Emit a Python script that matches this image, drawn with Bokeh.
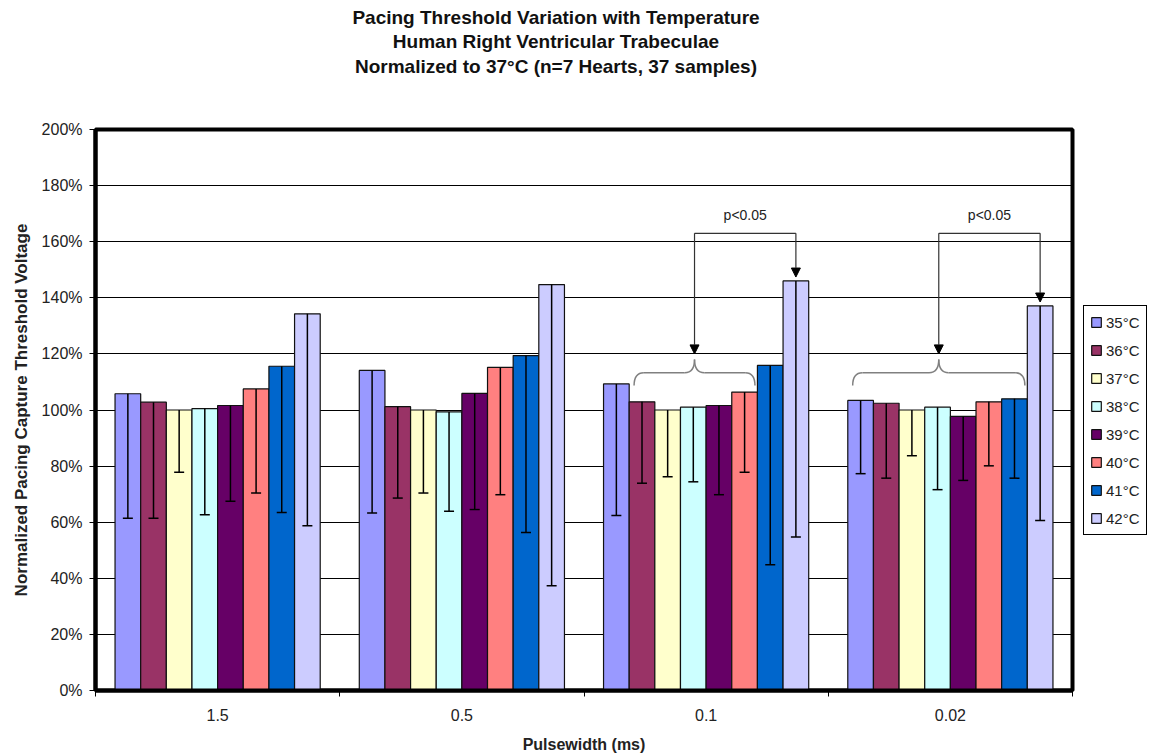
from bokeh.plotting import figure
from bokeh.layouts import row
from bokeh.models import (ColumnDataSource, Range1d, FixedTicker, PrintfTickFormatter,
                          Whisker, TeeHead, Arrow, NormalHead, Legend, LegendItem, Title)
from bokeh.core.properties import value
from bokeh.embed import file_html
from bokeh.resources import INLINE

# ---------------- data ----------------
groups = ["1.5", "0.5", "0.1", "0.02"]          # pulsewidth (ms)
temps = ["35°C", "36°C", "37°C", "38°C", "39°C", "40°C", "41°C", "42°C"]
colors = ["#9999FF", "#993366", "#FFFFCC", "#CCFFFF", "#660066", "#FF8080", "#0066CC", "#CCCCFF"]

# mean normalized threshold (%), one value per pulsewidth group
mean_35 = [105.8, 114.1, 109.3, 103.4]
mean_36 = [102.8, 101.2, 102.9, 102.4]
mean_37 = [100.0, 100.0, 100.0, 100.0]
mean_38 = [100.5, 99.3, 101.0, 101.0]
mean_39 = [101.6, 105.9, 101.6, 97.7]
mean_40 = [107.5, 115.2, 106.4, 102.9]
mean_41 = [115.6, 119.4, 115.9, 104.0]
mean_42 = [134.3, 144.7, 146.0, 137.1]

# lower end of the error bar (%)
low_35 = [61.4, 63.3, 62.4, 77.3]
low_36 = [61.4, 68.6, 73.9, 75.7]
low_37 = [77.8, 70.4, 76.2, 83.7]
low_38 = [62.7, 63.9, 74.4, 71.6]
low_39 = [67.5, 64.5, 69.8, 74.9]
low_40 = [70.4, 69.8, 77.8, 80.1]
low_41 = [63.5, 56.3, 44.8, 75.7]
low_42 = [58.7, 37.3, 54.7, 60.6]

y_ticks = [0, 20, 40, 60, 80, 100, 120, 140, 160, 180, 200]

# significance annotations: group index, first & last bar under the brace
sig_groups = [2, 3]
sig_brace_first = [1, 0]
sig_brace_last = [5, 6]
sig_label = "p<0.05"

means = [mean_35, mean_36, mean_37, mean_38, mean_39, mean_40, mean_41, mean_42]
lows = [low_35, low_36, low_37, low_38, low_39, low_40, low_41, low_42]

# ---------------- figure ----------------
p = figure(frame_width=977, frame_height=561, x_range=Range1d(0, 4), y_range=Range1d(0, 200),
           output_backend="svg", toolbar_location=None,
           min_border_left=95, min_border_right=4, min_border_top=129, min_border_bottom=65)
p.background_fill_color = "white"
p.border_fill_color = "white"
p.outline_line_color = "black"
p.outline_line_width = 4

FONT = "Liberation Sans"
BAR_W = 0.105


def bar_x(g, i):
    return g + 0.5 + (i - 3.5) * BAR_W


for i, t in enumerate(temps):
    xs = [bar_x(g, i) for g in range(len(groups))]
    src = ColumnDataSource(dict(x=xs, top=means[i], low=lows[i]))
    p.vbar(x="x", top="top", bottom=0, width=BAR_W, source=src,
           fill_color=colors[i], line_color="#111111", line_width=1.2)
    w = Whisker(base="x", upper="top", lower="low", source=src,
                upper_head=None,
                lower_head=TeeHead(size=10, line_color="black", line_width=1.5),
                line_color="black", line_width=1.5, level="overlay")
    p.add_layout(w)

# ---------------- significance brackets ----------------
BRACKET_Y = 163
LABEL_Y = 169.5
BRACE_TIP = 118
BRACE_MID = 113.3
BRACE_END = 108.7
D = 0.04
br_col = "#808080"

q = dict(x0=[], y0=[], x1=[], y1=[], cx=[], cy=[])
seg = dict(x0=[], y0=[], x1=[], y1=[])
arr = dict(xs=[], ys=[], xe=[], ye=[])
lab = dict(x=[], y=[], text=[])
for g, f, l in zip(sig_groups, sig_brace_first, sig_brace_last):
    L = bar_x(g, f) - BAR_W / 2 + 0.02
    R = bar_x(g, l) + BAR_W / 2 - 0.01
    tip = (L + R) / 2
    for (a, b, c, d_, e, f_) in [
        (L, BRACE_END, L + D, BRACE_MID, L, BRACE_MID),
        (tip - D, BRACE_MID, tip, BRACE_TIP, tip, BRACE_MID),
        (tip, BRACE_TIP, tip + D, BRACE_MID, tip, BRACE_MID),
        (R - D, BRACE_MID, R, BRACE_END, R, BRACE_MID),
    ]:
        q["x0"].append(a); q["y0"].append(b); q["x1"].append(c)
        q["y1"].append(d_); q["cx"].append(e); q["cy"].append(f_)
    seg["x0"] += [L + D, tip + D]
    seg["y0"] += [BRACE_MID, BRACE_MID]
    seg["x1"] += [tip - D, R - D]
    seg["y1"] += [BRACE_MID, BRACE_MID]
    x42 = bar_x(g, 7)
    p.segment(x0=[tip], y0=[BRACKET_Y], x1=[x42], y1=[BRACKET_Y],
              line_color="#333333", line_width=1.2)
    arr["xs"] += [tip, x42]
    arr["ys"] += [BRACKET_Y, BRACKET_Y]
    arr["xe"] += [tip, x42]
    arr["ye"] += [BRACE_TIP + 2, mean_42[g] + 1.4]
    lab["x"].append((tip + x42) / 2)
    lab["y"].append(LABEL_Y)
    lab["text"].append(sig_label)

p.quadratic(x0="x0", y0="y0", x1="x1", y1="y1", cx="cx", cy="cy",
            source=ColumnDataSource(q), line_color=br_col, line_width=1.5)
p.segment(x0="x0", y0="y0", x1="x1", y1="y1", source=ColumnDataSource(seg),
          line_color=br_col, line_width=1.5)
p.add_layout(Arrow(x_start="xs", y_start="ys", x_end="xe", y_end="ye",
                   source=ColumnDataSource(arr), line_color="#333333", line_width=1.2,
                   end=NormalHead(size=9, fill_color="black", line_color="black")))
p.text(x="x", y="y", text="text", source=ColumnDataSource(lab),
       text_align="center", text_baseline="middle",
       text_font=value(FONT), text_font_size="14px", text_color="#222222")

# ---------------- axes ----------------
p.xgrid.visible = False
p.ygrid.grid_line_color = "black"
p.ygrid.grid_line_width = 1

p.yaxis.ticker = FixedTicker(ticks=y_ticks)
p.yaxis.formatter = PrintfTickFormatter(format="%d%%")
p.yaxis.axis_line_width = 4
p.yaxis.major_tick_out = 6
p.yaxis.major_tick_in = 0
p.yaxis.minor_tick_out = 0
p.yaxis.major_label_text_font = FONT
p.yaxis.major_label_text_font_size = "16px"
p.yaxis.major_label_text_color = "#222222"
p.yaxis.major_label_standoff = 7
p.yaxis.axis_label = "Normalized Pacing Capture Threshold Voltage"
p.yaxis.axis_label_text_font = FONT
p.yaxis.axis_label_text_font_style = "bold"
p.yaxis.axis_label_text_font_size = "17px"
p.yaxis.axis_label_text_color = "#222222"
p.yaxis.axis_label_standoff = 8

centers = [g + 0.5 for g in range(len(groups))]
p.xaxis.ticker = FixedTicker(ticks=centers, minor_ticks=list(range(len(groups) + 1)))
p.xaxis.major_label_overrides = {c: g for c, g in zip(centers, groups)}
p.xaxis.axis_line_width = 4
p.xaxis.major_tick_out = 0
p.xaxis.major_tick_in = 0
p.xaxis.minor_tick_out = 6
p.xaxis.minor_tick_in = 0
p.xaxis.minor_tick_line_color = "black"
p.xaxis.major_label_text_font = FONT
p.xaxis.major_label_text_font_size = "16px"
p.xaxis.major_label_text_color = "#222222"
p.xaxis.major_label_standoff = 12
p.xaxis.axis_label = "Pulsewidth (ms)"
p.xaxis.axis_label_text_font = FONT
p.xaxis.axis_label_text_font_style = "bold"
p.xaxis.axis_label_text_font_size = "16px"
p.xaxis.axis_label_text_color = "#222222"
p.xaxis.axis_label_standoff = 12

# ---------------- titles ----------------
title_lines = ["Pacing Threshold Variation with Temperature",
               "Human Right Ventricular Trabeculae",
               "Normalized to 37°C (n=7 Hearts, 37 samples)"]
standoffs = [0, 2, 2]
# invisible spacer between the title block and the plot frame
p.add_layout(Title(text=" ", standoff=49, text_font_size="1px"), "above")
for line, so in zip(reversed(title_lines), reversed(standoffs)):
    p.add_layout(Title(text=line, align="center", standoff=so, padding=(0, 56, 0, 0),
                       text_font=FONT, text_font_style="bold", text_font_size="19px",
                       text_color="#111111"), "above")

# ---------------- legend (separate narrow panel on the right) ----------------
pl = figure(width=76, height=755, x_range=Range1d(0, 1), y_range=Range1d(0, 1),
            x_axis_type=None, y_axis_type=None,
            output_backend="svg", toolbar_location=None,
            min_border_left=0, min_border_right=0, min_border_top=0, min_border_bottom=0)
pl.outline_line_color = None
pl.xgrid.visible = False
pl.ygrid.visible = False
pl.background_fill_color = "white"
pl.border_fill_color = "white"

legend_items = []
for t, c in zip(temps, colors):
    # zero-size proxy glyph: only its colours are used by the legend
    rr = pl.vbar(x=[0.5], top=[0], bottom=0, width=0, fill_color=c,
                 line_color="#111111", line_width=1.2)
    legend_items.append(LegendItem(label=t, renderers=[rr]))

legend = Legend(items=legend_items, location=(7, 155), orientation="vertical",
                border_line_color="black", border_line_width=1.2, border_line_alpha=1.0,
                background_fill_color="white", background_fill_alpha=1.0,
                glyph_width=12, glyph_height=12, label_standoff=4,
                spacing=8, padding=6, margin=0,
                label_text_font=FONT, label_text_font_size="15px",
                label_text_color="#222222", label_height=20)
pl.add_layout(legend)

layout = row(p, pl, spacing=0)
open("out.html", "w").write(file_html(layout, INLINE))
